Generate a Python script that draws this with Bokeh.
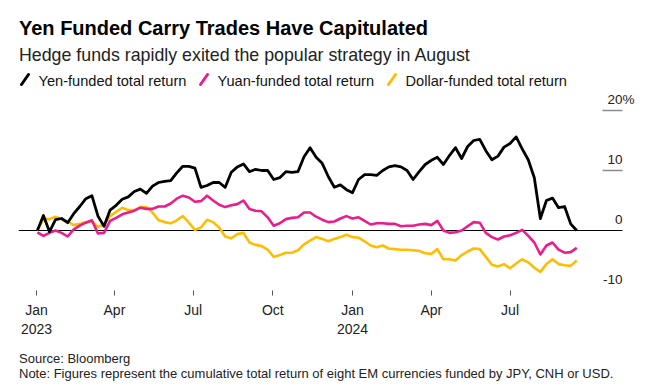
import pandas as pd
from bokeh.plotting import figure
from bokeh.layouts import column
from bokeh.models import LabelSet, FixedTicker, ColumnDataSource, Range1d, Grid
from bokeh.core.properties import value
from bokeh.embed import file_html
from bokeh.resources import INLINE

# ---------------- data (weekly) ----------------
dates = pd.date_range("2023-01-02", periods=90, freq="7D")

yen = [0.0, 2.5, -0.2, 1.8, 2.0, 1.3, 2.8, 4.0, 5.3, 5.8,
       2.4, 0.7, 3.4, 4.2, 5.2, 5.6, 6.5, 6.9, 6.2, 7.4,
       8.0, 8.2, 8.3, 9.6, 10.7, 10.7, 10.4, 7.2, 7.5, 8.0,
       8.0, 7.2, 9.7, 10.6, 11.1, 9.8, 10.2, 10.0, 10.0, 8.5,
       8.8, 9.8, 9.7, 9.8, 12.3, 13.8, 12.2, 11.2, 9.0, 7.2,
       7.6, 6.8, 6.3, 8.5, 9.3, 9.3, 9.2, 10.0, 10.6, 10.8,
       10.6, 10.0, 8.5, 9.8, 11.0, 11.7, 12.2, 11.0, 12.5, 13.8,
       12.0, 14.0, 15.0, 15.2, 13.3, 11.8, 12.4, 13.9, 14.5, 15.6,
       13.6, 11.8, 8.8, 2.0, 5.0, 5.4, 3.8, 4.0, 1.1, 0.0]

yuan = [-0.3, -0.9, -0.4, 0.0, -0.4, -1.0, 0.2, 0.8, 1.3, 1.7,
        -0.5, -0.4, 1.6, 2.1, 2.7, 3.0, 3.3, 3.8, 3.6, 3.6,
        4.0, 4.0, 4.5, 5.3, 5.8, 5.5, 4.8, 4.9, 5.8, 5.0,
        4.3, 3.9, 4.2, 4.4, 5.0, 3.6, 3.3, 3.2, 2.2, 0.8,
        1.2, 1.9, 2.1, 2.2, 3.0, 3.0, 2.3, 1.8, 1.4, 1.5,
        2.0, 2.4, 2.0, 2.2, 1.6, 1.0, 1.2, 1.2, 1.1, 1.1,
        0.7, 0.8, 0.8, 1.0, 1.1, 0.9, 1.6, 0.0, -0.4, -0.3,
        0.0, 0.7, 1.4, 1.3, -0.4, -1.1, -1.5, -1.0, -0.8, -0.4,
        0.1, -0.9, -2.0, -4.0, -2.5, -2.0, -3.2, -3.7, -3.6, -2.9]

dollar = [0.0, 1.9, 1.9, 2.3, 1.9, 1.5, 0.9, 1.1, 1.4, 1.5,
          0.6, 1.0, 2.4, 3.1, 3.8, 3.4, 3.4, 3.9, 3.9, 3.0,
          1.7, 1.4, 1.2, 1.7, 2.4, 1.3, 0.1, 0.5, 1.8, 1.4,
          0.5, -1.0, -1.3, -0.6, -0.4, -2.0, -2.4, -2.6, -3.2, -4.4,
          -4.1, -3.7, -3.7, -3.3, -2.3, -1.7, -1.1, -1.4, -1.8, -1.4,
          -1.1, -0.7, -1.1, -1.2, -1.8, -2.5, -2.8, -2.5, -3.0, -3.1,
          -3.2, -3.2, -3.3, -3.4, -3.8, -3.9, -3.1, -4.8, -4.8, -5.0,
          -4.1, -3.5, -3.0, -3.1, -4.4, -5.7, -6.0, -5.6, -6.3, -5.5,
          -4.8, -5.3, -6.2, -6.9, -5.6, -4.8, -5.6, -5.8, -5.9, -5.0]

series_names = ["Yen-funded total return", "Yuan-funded total return", "Dollar-funded total return"]
series_colors = ["#000000", "#ea1d8c", "#ffbd00"]

x_tick_dates = ["2023-01-01", "2023-04-01", "2023-07-01", "2023-10-01",
                "2024-01-01", "2024-04-01", "2024-07-01"]
x_tick_labels = ["Jan\n2023", "Apr", "Jul", "Oct", "Jan\n2024", "Apr", "Jul"]
y_ticks = [-10, 0, 10, 20]
y_tick_labels = ["-10", "0", "10", "20"]

title = "Yen Funded Carry Trades Have Capitulated"
subtitle = "Hedge funds rapidly exited the popular strategy in August"
source_text = "Source: Bloomberg"
note_text = "Note: Figures represent the cumulative total return of eight EM currencies funded by JPY, CNH or USD."

FONT = "Liberation Sans"
W = 660
LEFT = 18    # left edge of the plotting frame (shared by the stacked figures)
HDR_H = 89   # header height; the chart frame starts right below it

def ms(d):
    return float(pd.Timestamp(d).timestamp() * 1000)

def add_texts(fig, texts, xs, ys, size, color="#000000", style="normal", align="left"):
    src = ColumnDataSource(dict(x=xs, y=ys, t=texts))
    fig.add_layout(LabelSet(x="x", y="y", text="t", source=src,
                            text_font=value(FONT), text_font_size=value(size),
                            text_color=value(color), text_font_style=value(style),
                            text_baseline=value("alphabetic"), text_align=value(align)))

def blank_fig(height, y_top, y_bottom):
    f = figure(width=W, height=height, x_range=Range1d(LEFT, W), y_range=Range1d(y_bottom, y_top),
               x_axis_location=None, y_axis_location=None, output_backend="svg",
               toolbar_location=None, min_border_left=LEFT, min_border_right=0,
               min_border_top=0, min_border_bottom=0)
    f.grid.visible = False
    f.outline_line_color = None
    return f

# ---------------- header (titles + legend), pixel coordinates ----------------
hdr = blank_fig(HDR_H, 0, HDR_H)
add_texts(hdr, [title], [18.5], [34], "20px", "#000000", "bold")
add_texts(hdr, [subtitle], [18.5], [60], "17.8px", "#222222")

leg_x = [21, 200, 388]
hdr.segment(x0=leg_x, y0=[84] * 3, x1=[x + 7 for x in leg_x], y1=[74] * 3,
            line_color=series_colors, line_width=3, line_cap="round")
add_texts(hdr, series_names, [x + 17 for x in leg_x], [85] * 3, "14.6px", "#111111")

# ---------------- main chart ----------------
day_px = 316 / 365.0            # horizontal scale of the reference
jan23 = pd.Timestamp("2023-01-01")
x_start = jan23 - pd.Timedelta(days=(36 - LEFT) / day_px)
x_end = jan23 + pd.Timedelta(days=(W - 36) / day_px)
stub_from = jan23 + pd.Timedelta(days=(602 - 36) / day_px)
stub_to = jan23 + pd.Timedelta(days=(622 - 36) / day_px)

frame_bottom = 290
p = figure(width=W, height=frame_bottom - HDR_H + 50, x_axis_type="datetime",
           x_range=Range1d(x_start, x_end), y_range=Range1d(-10, (230 - HDR_H) / 6.0),
           y_axis_location=None, output_backend="svg", toolbar_location=None,
           min_border_left=LEFT, min_border_right=0, min_border_top=0, min_border_bottom=50)
for g in p.grid:
    g.visible = False
p.outline_line_color = None

stub_grid = Grid(dimension=1, ticker=FixedTicker(ticks=[t for t in y_ticks if t != 0]),
                 grid_line_color="#8c8c8c", grid_line_width=1.5,
                 cross_bounds=(ms(stub_from), ms(stub_to)))
zero_grid = Grid(dimension=1, ticker=FixedTicker(ticks=[0]),
                 grid_line_color="#000000", grid_line_width=1,
                 cross_bounds=(ms(x_start), ms(stub_to)))
p.add_layout(stub_grid)
p.add_layout(zero_grid)

tick_ms = [ms(d) for d in x_tick_dates]
xa = p.xaxis[0]
xa.ticker = FixedTicker(ticks=tick_ms)
xa.major_label_overrides = {t: lab for t, lab in zip(tick_ms, x_tick_labels)}
xa.axis_line_color = None
xa.major_tick_in = 0
xa.major_tick_out = 5
xa.major_tick_line_color = "#555555"
xa.minor_tick_line_color = None
xa.major_label_standoff = 6
xa.major_label_text_font = FONT
xa.major_label_text_font_size = "14px"
xa.major_label_text_color = "#222222"

for vals, col in reversed(list(zip([yen, yuan, dollar], series_colors))):
    src = ColumnDataSource(dict(date=dates, v=vals))
    p.line("date", "v", source=src, line_color=col,
           line_width=2.8 if col == "#000000" else 2.6, line_join="round")

ylab_src = ColumnDataSource(dict(x=[ms(stub_to)] * len(y_ticks), y=y_ticks, t=y_tick_labels))
p.add_layout(LabelSet(x="x", y="y", text="t", source=ylab_src, text_align="right",
                      text_baseline="alphabetic", y_offset=7, text_font=value(FONT),
                      text_font_size=value("13.5px"), text_color=value("#222222")))
pct_src = ColumnDataSource(dict(x=[ms(stub_to)], y=[y_ticks[-1]], t=["%"]))
p.add_layout(LabelSet(x="x", y="y", text="t", source=pct_src, text_align="left",
                      text_baseline="alphabetic", y_offset=7, text_font=value(FONT),
                      text_font_size=value("13.5px"), text_color=value("#222222")))

# ---------------- footer ----------------
ftr = blank_fig(50, 340, 390)
add_texts(ftr, [source_text, note_text], [18.5, 18.5], [362, 377], "13px", "#222222")

layout = column(hdr, p, ftr, spacing=0)
open("out.html", "w").write(file_html(layout, INLINE))
